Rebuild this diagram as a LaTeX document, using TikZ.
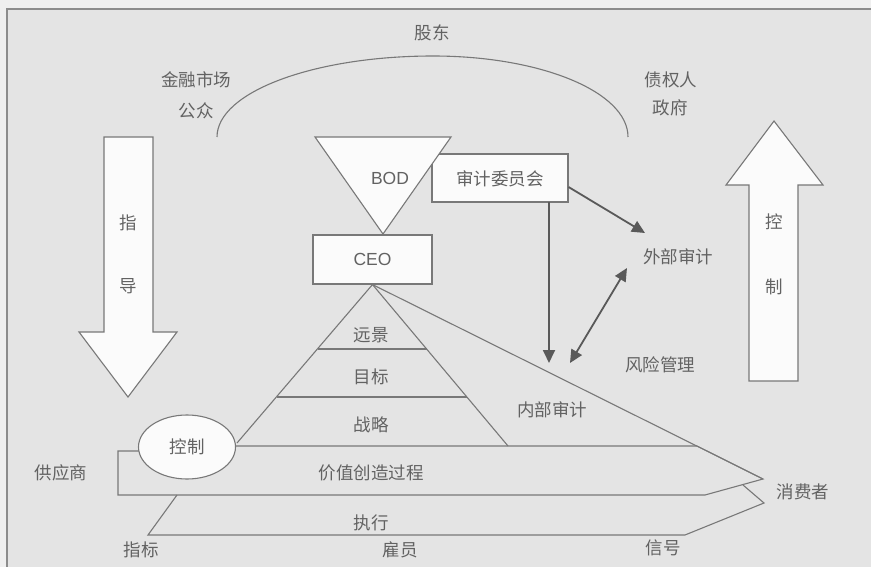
\documentclass[tikz,border=0pt]{standalone}
\usepackage{fontspec}
\setmainfont{Liberation Sans}
\newfontfamily\cjk{Noto Sans CJK SC}
\usetikzlibrary{arrows.meta,shapes.geometric}
\definecolor{bgin}{HTML}{E4E4E4}
\definecolor{bgout}{HTML}{EFEFEF}
\definecolor{ln}{HTML}{787878}
\definecolor{tx}{HTML}{626262}
\definecolor{ar}{HTML}{595959}
\definecolor{shp}{HTML}{FBFBFB}
\begin{document}
\begin{tikzpicture}[x=1pt,y=-1pt,
  lbl/.style={text=tx, font=\cjk\fontsize{17.5}{20}\selectfont, inner sep=0pt},
  latin/.style={text=tx, font=\fontsize{17.5}{20}\selectfont, inner sep=0pt},
  outline/.style={draw=ln, line width=1.1pt, line join=miter},
  whiteshape/.style={outline, fill=shp},
  boxnode/.style={whiteshape, rectangle, inner sep=0pt},
  conn/.style={draw=ar, line width=1.8pt, -{Triangle[length=13pt,width=12pt]}},
  dconn/.style={draw=ar, line width=1.8pt, {Triangle[length=13pt,width=12pt]}-{Triangle[length=13pt,width=12pt]}},
  framestyle/.style={draw=ln!85, line width=1.5pt}
]
\useasboundingbox (0,0) rectangle (871,567);
\fill[bgout] (0,0) rectangle (871,567);
\fill[bgin] (7,9) rectangle (872,568);
\draw[framestyle] (7,568) -- (7,9) -- (872,9);

% stakeholder arc
\draw[outline] (217,137) .. controls (217,92) and (314,56) .. (433,56)
               .. controls (541,56) and (628,92) .. (628,137);

% guidance arrow (down)
\draw[whiteshape] (104,137) -- (153,137) -- (153,332) -- (177,332) -- (128,397)
   -- (79,332) -- (104,332) -- cycle;
% control arrow (up)
\draw[whiteshape] (774,121) -- (823,185) -- (798,185) -- (798,381) -- (749,381)
   -- (749,185) -- (726,185) -- cycle;

% CEO box (needed as apex)
\node[boxnode, minimum width=119pt, minimum height=49pt] (ceo) at (372.5,259.5) {};

% pyramid
\draw[outline] (237,443) -- (ceo.south) -- (508,446);
\draw[outline] (ceo.south) -- (763,479);
\draw[outline] (318,349) -- (427,349);
\draw[outline] (277,397) -- (467,397);

% value creation band
\draw[outline] (236,446) -- (697,446) -- (763,479) -- (705,495) -- (118,495)
   -- (118,451) -- (190,451);
% execution band
\draw[outline] (177,495) -- (148,535) -- (685,535) -- (764,503) -- (743,485);

% control ellipse
\node[whiteshape, ellipse, minimum width=97pt, minimum height=64pt, inner sep=0pt,
      lbl] (ctl) at (187,447) {控制};

% audit committee box (behind BOD)
\node[boxnode, minimum width=136pt, minimum height=48pt] (acb) at (500,178) {};
\node[lbl] (acbt) at (500,179) {审计委员会};

% BOD triangle
\draw[whiteshape] (315,137) -- (451,137) -- (383,234) -- cycle;
\node[latin] (bod) at (390,178) {BOD};
\node[latin] (ceot) at (ceo.center) {CEO};

% connectors
\coordinate (ea1) at (645,233);
\coordinate (va) at (549,202);
\coordinate (vb) at (549,363);
\coordinate (da) at (627,268);
\coordinate (db) at (570,363);
\draw[conn] ([yshift=-9pt]acb.east) -- (ea1);
\draw[conn] (va) -- (vb);
\draw[dconn] (db) -- (da);

% labels
\node[lbl] (gd) at (432,33) {股东};
\node[lbl] (jr) at (196,80) {金融市场};
\node[lbl] (gz) at (196,111) {公众};
\node[lbl] (zq) at (671,80) {债权人};
\node[lbl] (zf) at (670,108) {政府};
\node[lbl] (zhi) at (128,223) {指};
\node[lbl] (dao) at (128,286) {导};
\node[lbl] (kong) at (774,222) {控};
\node[lbl] (zhi2) at (774,287) {制};
\node[lbl] (wb) at (678,257) {外部审计};
\node[lbl] (fx) at (660,365) {风险管理};
\node[lbl] (nb) at (552,410) {内部审计};
\node[lbl] (yj) at (371,335) {远景};
\node[lbl] (mb) at (371,377) {目标};
\node[lbl] (zl) at (371,425) {战略};
\node[lbl] (jz) at (371,473) {价值创造过程};
\node[lbl] (zx) at (371,523) {执行};
\node[lbl] (gys) at (61,473) {供应商};
\node[lbl] (zb) at (141,550) {指标};
\node[lbl] (gy) at (400,550) {雇员};
\node[lbl] (xf) at (803,492) {消费者};
\node[lbl] (xh) at (663,548) {信号};
\end{tikzpicture}
\end{document}
